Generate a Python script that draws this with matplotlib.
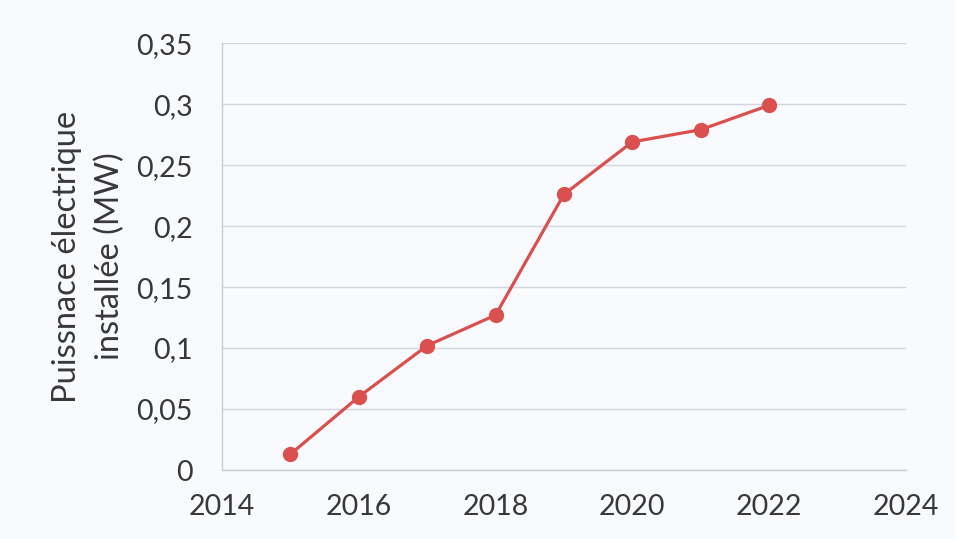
import matplotlib
matplotlib.use("Agg")
import matplotlib.pyplot as plt

years = [2015, 2016, 2017, 2018, 2019, 2020, 2021, 2022]
power_mw = [0.013, 0.060, 0.102, 0.127, 0.226, 0.269, 0.279, 0.299]
y_ticks = [0, 0.05, 0.1, 0.15, 0.2, 0.25, 0.3, 0.35]
x_ticks = [2014, 2016, 2018, 2020, 2022, 2024]

plt.rcParams['font.family'] = ['Lato', 'DejaVu Sans']

fig = plt.figure(figsize=(9.55, 5.39), dpi=100, facecolor='#f8fafd')
ax = fig.add_axes([0.2325, 0.128, 0.716, 0.792])
ax.set_facecolor('#f8fafd')

ax.plot(years, power_mw, color='#d9504f', lw=2.3, marker='o', ms=10,
        markerfacecolor='#d9504f', markeredgecolor='#d9504f', zorder=3)

ax.set_xlim(2014, 2024)
ax.set_ylim(0, 0.35)
ax.set_xticks(x_ticks)
ax.set_yticks(y_ticks)
ax.set_yticklabels([f"{v:g}".replace('.', ',') for v in y_ticks])
ax.tick_params(axis='both', length=0, labelsize=20.5, colors='#383838')
ax.tick_params(axis='y', pad=21)
ax.tick_params(axis='x', pad=17)

ax.grid(axis='y', color='#d3d6e0', lw=1)
for side in ['top', 'right']:
    ax.spines[side].set_visible(False)
for side in ['left', 'bottom']:
    ax.spines[side].set_color('#c8ccd6')
    ax.spines[side].set_linewidth(1)

ax.set_ylabel('Puissnace électrique\ninstallée (MW)', fontsize=23.5,
              color='#383838', linespacing=1.5)
ax.yaxis.set_label_coords(-0.142, 0.5)

fig.savefig('out.png', dpi=100, facecolor=fig.get_facecolor())
